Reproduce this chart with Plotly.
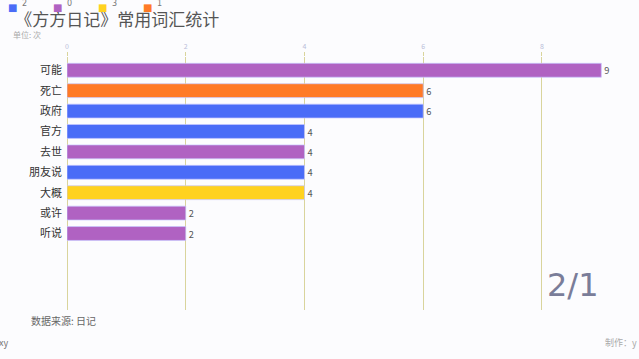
import plotly.graph_objects as go

categories = ["可能", "死亡", "政府", "官方", "去世", "朋友说", "大概", "或许", "听说"]
values = [9, 6, 6, 4, 4, 4, 4, 2, 2]
groups = ["0", "1", "2", "2", "0", "2", "3", "0", "0"]
legend_order = ["2", "0", "3", "1"]
group_colors = {"2": "#4a6cf7", "0": "#b062c2", "3": "#ffd21f", "1": "#ff7a26"}
x_ticks = [0, 2, 4, 6, 8]

FONT = "Noto Sans CJK SC"
W, H = 639, 359
ML, MR, MT, MB = 67, 8, 57, 49

fig = go.Figure()
for g in legend_order:
    xs = [v for v, gg in zip(values, groups) if gg == g]
    ys = [c for c, gg in zip(categories, groups) if gg == g]
    fig.add_trace(go.Bar(
        x=xs, y=ys, orientation="h", name=g,
        marker=dict(color=group_colors[g], line=dict(color="rgba(200,200,255,0.7)", width=1)),
        width=0.68,
        text=[str(v) for v in xs], textposition="outside",
        textfont=dict(size=10, color="#555", family=FONT),
        cliponaxis=False,
    ))

fig.update_layout(
    width=W, height=H,
    margin=dict(l=ML, r=MR, t=MT, b=MB, autoexpand=False),
    paper_bgcolor="#fcfcfe", plot_bgcolor="#fcfcfe",
    barmode="relative",
    font=dict(family=FONT),
    showlegend=False,
    title=dict(text="《方方日记》常用词汇统计", x=0.024, xanchor="left", y=0.945, yanchor="middle",
               font=dict(size=17, color="#555", family=FONT)),
)
fig.update_xaxes(
    side="top", range=[0, 9.5], tickvals=x_ticks, automargin=False,
    tickfont=dict(size=7, color="#b9bdd9"),
    showgrid=True, gridcolor="#d9d49c", gridwidth=1,
    zeroline=True, zerolinecolor="#d9d49c", zerolinewidth=1,
    ticks="outside", ticklen=4, tickcolor="#d9d49c",
    showline=False,
)
fig.update_yaxes(
    type="category", categoryorder="array", categoryarray=categories,
    range=[11.75, -0.65], automargin=False,
    tickfont=dict(size=11, color="#333"),
    showgrid=False, ticks="", ticklabelstandoff=4,
)

# custom legend along the top edge
pw, ph = W - ML - MR, H - MT - MB
for i, g in enumerate(legend_order):
    px = 12 + i * 45
    fig.add_annotation(text="■", xref="paper", yref="paper",
                       x=(px - ML) / pw, y=(MT - 7) / ph + 1, xanchor="center", yanchor="middle",
                       showarrow=False, borderpad=0,
                       font=dict(size=10, color=group_colors[g], family="DejaVu Sans"))
    fig.add_annotation(text=g, xref="paper", yref="paper",
                       x=(px + 9 - ML) / pw, y=(MT - 4) / ph + 1, xanchor="left", yanchor="middle",
                       showarrow=False, borderpad=0,
                       font=dict(size=8, color="#777", family="DejaVu Sans"))

fig.add_annotation(text="单位: 次", xref="paper", yref="paper", x=-0.1, y=1.09,
                   xanchor="left", yanchor="middle", showarrow=False,
                   font=dict(size=8, color="#aaa", family=FONT))
fig.add_annotation(text="数据来源: 日记", xref="paper", yref="paper", x=-0.068, y=-0.04,
                   xanchor="left", yanchor="middle", showarrow=False,
                   font=dict(size=10, color="#666", family=FONT))
fig.add_annotation(text="xy", xref="paper", yref="paper", x=-0.125, y=-0.13,
                   xanchor="left", yanchor="middle", showarrow=False,
                   font=dict(size=9, color="#777", family=FONT))
fig.add_annotation(text="制作：y", xref="paper", yref="paper", x=0.95, y=-0.13,
                   xanchor="left", yanchor="middle", showarrow=False,
                   font=dict(size=9, color="#aaa", family=FONT))
fig.add_annotation(text="2/1", xref="paper", yref="paper", x=(601 - ML) / pw, y=0.1,
                   xanchor="right", yanchor="middle", showarrow=False,
                   font=dict(size=32, color="#7a7d99", family="DejaVu Sans"))

fig.write_html("out.html")
